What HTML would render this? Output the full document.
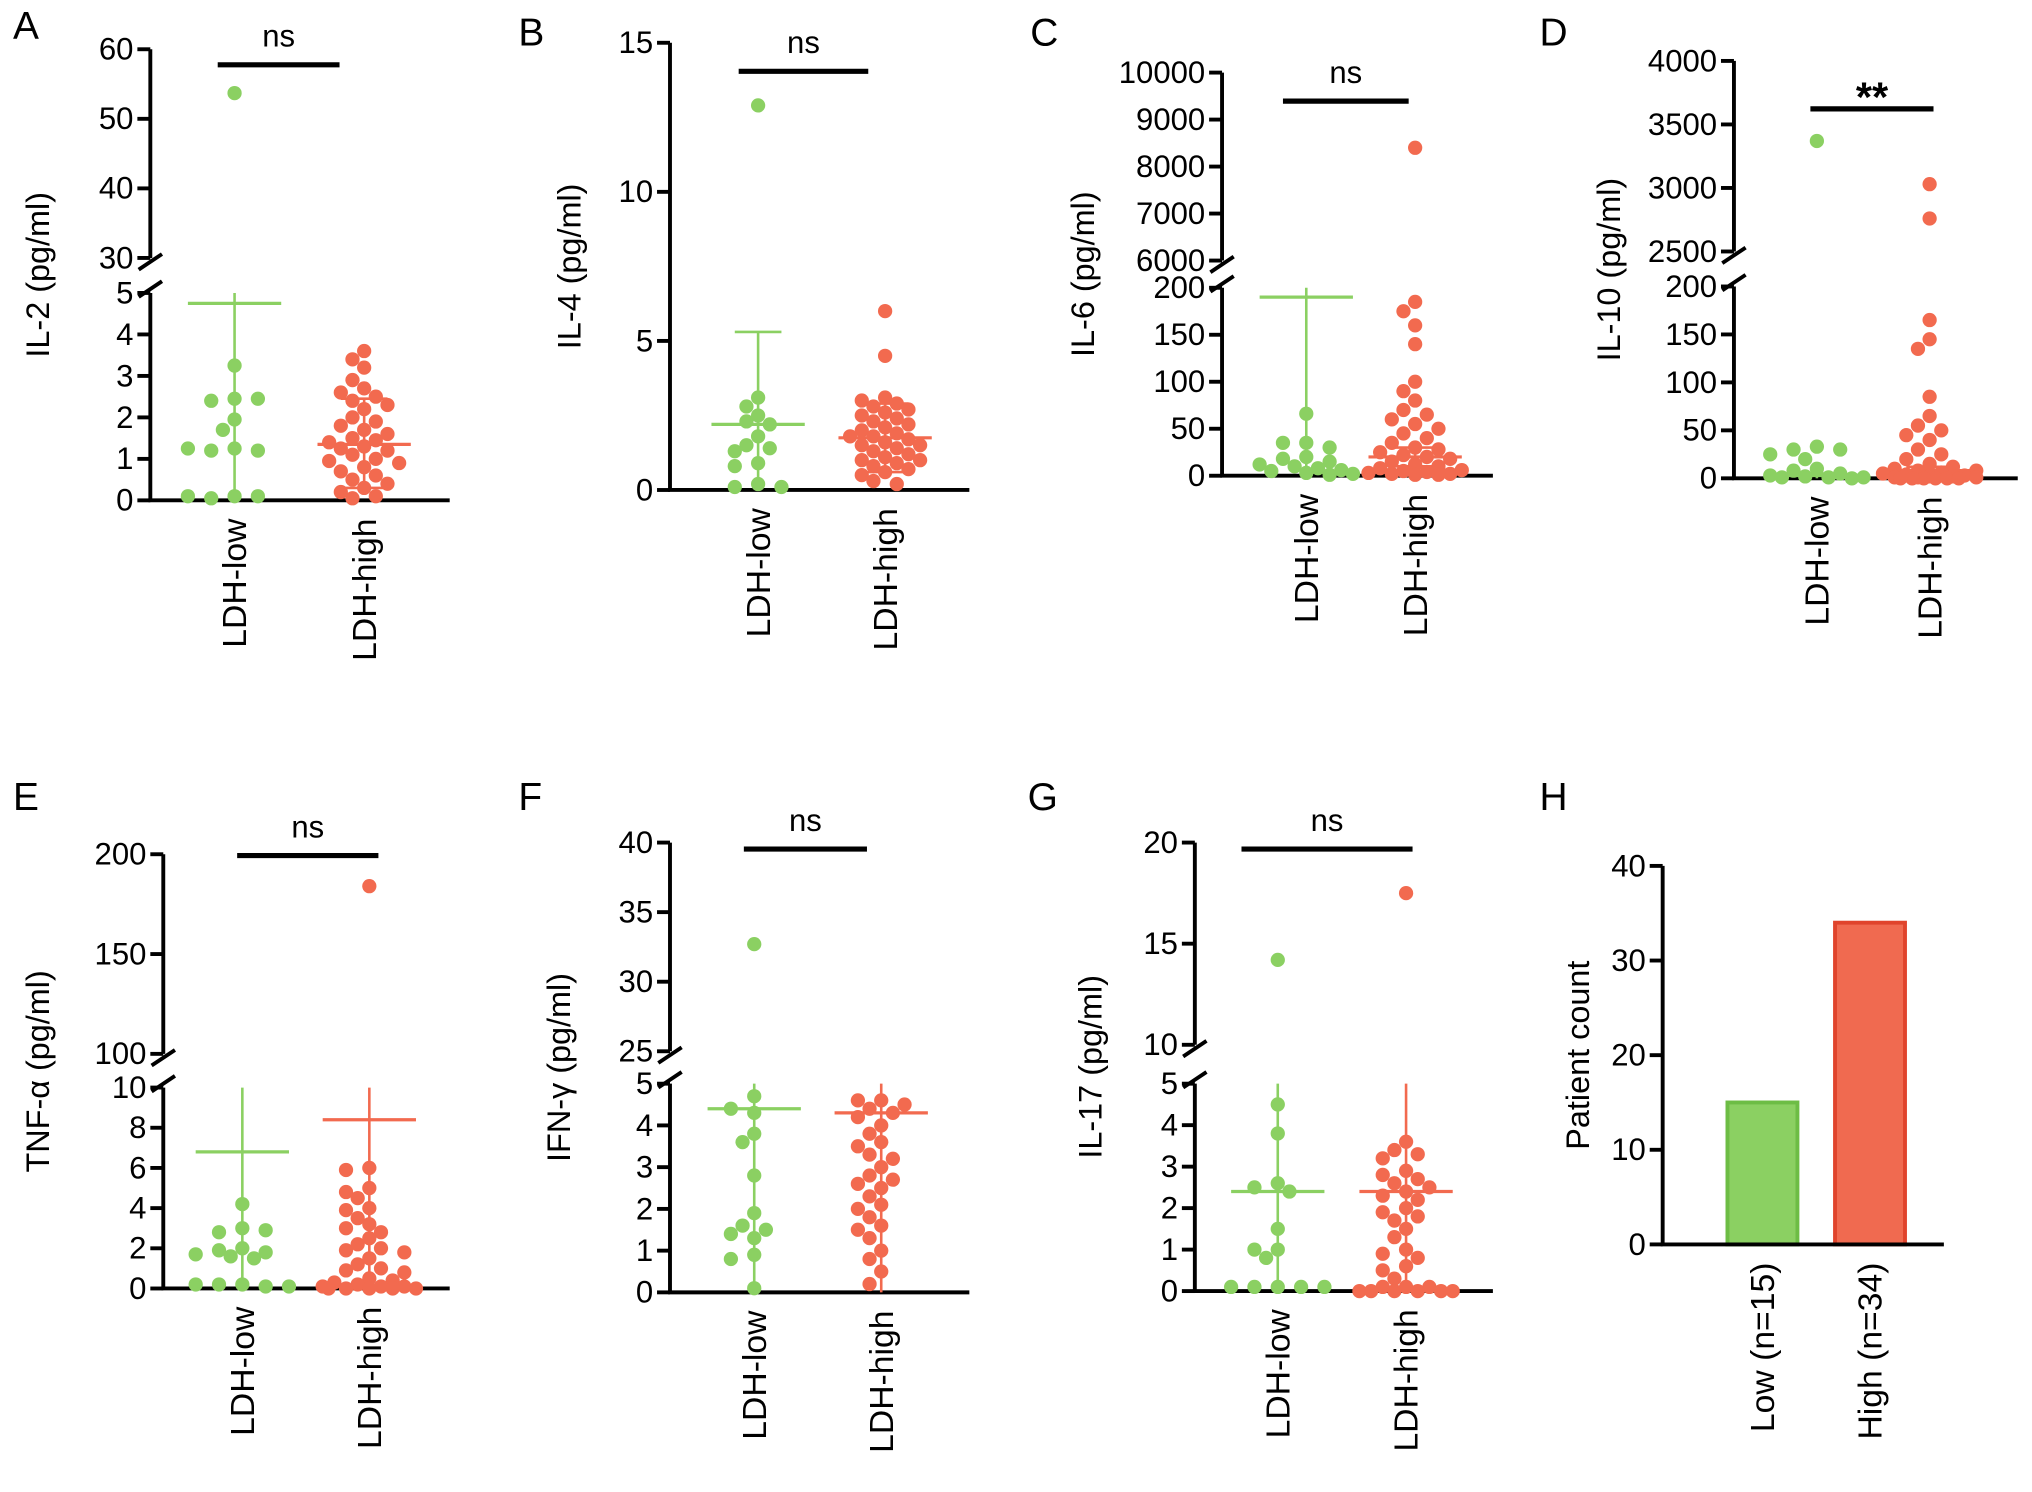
<!DOCTYPE html>
<html><head><meta charset="utf-8">
<style>
html,body{margin:0;padding:0;background:#fff;}
svg{display:block;font-family:"Liberation Sans",Arial,sans-serif;}
</style></head>
<body>
<svg id="fig" width="2032" height="1492" viewBox="0 0 1568 1151" preserveAspectRatio="none" xmlns="http://www.w3.org/2000/svg"></svg>
<script>
// ---------- data ----------
const groupNames = ["LDH-low","LDH-high"];
const il2Low = [53.7,3.25,2.45,2.4,2.45,1.95,1.7,1.25,1.2,1.2,1.25,0.1,0.05,0.1,0.1];
const il2High = [3.6,3.4,3.2,2.9,2.7,2.6,2.5,2.4,2.3,2.2,2.0,1.9,1.8,1.7,1.6,1.5,1.45,1.4,1.3,1.25,1.2,1.1,1.0,0.95,0.9,0.8,0.7,0.6,0.5,0.4,0.3,0.2,0.1,0.05];
const il4Low = [12.9,3.1,2.8,2.5,2.3,2.2,1.8,1.5,1.4,1.3,0.9,0.8,0.2,0.1,0.1];
const il4High = [6.0,4.5,3.1,3.0,2.9,2.8,2.7,2.6,2.5,2.4,2.3,2.2,2.1,2.0,1.9,1.8,1.8,1.7,1.6,1.5,1.5,1.4,1.3,1.2,1.1,1.0,1.0,0.9,0.8,0.7,0.6,0.5,0.3,0.2];
const il6Low = [66,35,35,30,20,18,15,12,10,8,6,5,3,2,1];
const il6High = [8400,185,175,160,140,100,90,80,70,65,60,55,50,45,40,35,30,28,25,22,20,18,15,12,10,8,6,5,4,3,2,2,1,1];
const il10Low = [3370,33,30,30,25,20,10,8,5,3,2,1,1,1,0];
const il10High = [3030,2760,165,145,135,85,65,55,50,45,40,30,25,20,15,12,10,8,8,6,5,4,3,2,2,1,1,1,0,0,0,0,0,0];
const tnfLow = [4.2,3.0,2.8,2.9,2.0,1.9,1.8,1.7,1.6,1.5,0.2,0.2,0.1,0.2,0.1];
const tnfHigh = [184,6.0,5.9,5.0,4.8,4.5,4.0,3.9,3.5,3.2,3.0,2.8,2.5,2.2,2.0,1.9,1.8,1.5,1.2,1.0,0.9,0.8,0.5,0.4,0.3,0.2,0.1,0.1,0.1,0,0,0,0,0];
const ifnLow = [32.7,4.7,4.3,4.4,3.8,3.6,2.8,1.9,1.6,1.5,1.4,1.3,0.9,0.8,0.1];
const ifnHigh = [4.6,4.6,4.5,4.4,4.3,4.2,4.0,3.8,3.6,3.5,3.3,3.2,3.0,2.8,2.7,2.6,2.5,2.3,2.1,2.0,1.8,1.6,1.5,1.3,1.0,0.8,0.5,0.2];
const il17Low = [14.2,4.5,3.8,2.6,2.5,2.4,1.5,1.0,1.0,0.8,0.1,0.1,0.1,0.1,0.1];
const il17High = [17.5,3.6,3.4,3.3,3.2,2.9,2.8,2.7,2.6,2.5,2.4,2.3,2.2,2.0,1.9,1.8,1.7,1.5,1.3,1.0,0.9,0.8,0.6,0.5,0.3,0.1,0.1,0.1,0,0,0,0,0,0];
// mean, sd-top, sd-bottom per group
const meanSd = {
  A:[[4.75,9.9,0],[1.35,2.45,0.3]], B:[[2.2,5.3,0],[1.75,2.9,0.6]],
  C:[[190,400,0],[20,30,10]], D:[[3,5,0],[8,12,4]],
  E:[[6.8,12,0],[8.4,14,0]], F:[[4.4,9,0],[4.3,9,0]],
  G:[[2.4,6,0],[2.4,6,0]]
};
const sigLabels = {A:"ns",B:"ns",C:"ns",D:"**",E:"ns",F:"ns",G:"ns"};
const barCategories = ["Low (n=15)","High (n=34)"];
const barValues = [15,34];
const barTicks = [0,10,20,30,40];

const GREEN="#8bd062", RED="#f26a4f";
const svg=document.getElementById('fig');
const NS="http://www.w3.org/2000/svg";
function mk(tag,attrs,parent){const e=document.createElementNS(NS,tag);for(const k in attrs)e.setAttribute(k,attrs[k]);(parent||svg).appendChild(e);return e;}

const panels=[
 {id:"A",label:"IL-2 (pg/ml)",data:[il2Low,il2High],ax:116,xe:347,base:386,lo:{max:5,top:226,ticks:[0,1,2,3,4,5]},up:{min:30,max:60,bot:199,top:38,ticks:[30,40,50,60]},gx:[181,281],sig:[168,262,50],lx:30,L:[10,30]},
 {id:"B",label:"IL-4 (pg/ml)",data:[il4Low,il4High],ax:517,xe:748,base:378,lo:{max:15,top:33,ticks:[0,5,10,15]},up:null,gx:[585,683],sig:[570,670,55],lx:440,L:[400,35]},
 {id:"C",label:"IL-6 (pg/ml)",data:[il6Low,il6High],ax:943,xe:1152,base:367,lo:{max:200,top:222,ticks:[0,50,100,150,200]},up:{min:6000,max:10000,bot:201,top:56,ticks:[6000,7000,8000,9000,10000]},gx:[1008,1092],sig:[990,1087,78],lx:836,L:[795,35]},
 {id:"D",label:"IL-10 (pg/ml)",data:[il10Low,il10High],ax:1338,xe:1557,base:369,lo:{max:200,top:221,ticks:[0,50,100,150,200]},up:{min:2500,max:4000,bot:194,top:47,ticks:[2500,3000,3500,4000]},gx:[1402,1489],sig:[1397,1492,84],lx:1242,L:[1188,35]},
 {id:"E",label:"TNF-\u03b1 (pg/ml)",data:[tnfLow,tnfHigh],ax:126,xe:347,base:994,lo:{max:10,top:839,ticks:[0,2,4,6,8,10]},up:{min:100,max:200,bot:813,top:659,ticks:[100,150,200]},gx:[187,285],sig:[183,292,660],lx:30,L:[10,625]},
 {id:"F",label:"IFN-\u03b3 (pg/ml)",data:[ifnLow,ifnHigh],ax:517,xe:748,base:997,lo:{max:5,top:836,ticks:[0,1,2,3,4,5]},up:{min:25,max:40,bot:811,top:650,ticks:[25,30,35,40]},gx:[582,680],sig:[574,669,655],lx:432,L:[400,625]},
 {id:"G",label:"IL-17 (pg/ml)",data:[il17Low,il17High],ax:922,xe:1152,base:996,lo:{max:5,top:836,ticks:[0,1,2,3,4,5]},up:{min:10,max:20,bot:806,top:650,ticks:[10,15,20]},gx:[986,1085],sig:[958,1090,655],lx:842,L:[793,625]}
];

function drawPanel(p){
  const g=mk('g',{});
  
  
  const yLo=v=>p.base-(Math.max(0,Math.min(v,p.lo.max))/p.lo.max)*(p.base-p.lo.top);
  const yUp=v=>p.up.bot-(v-p.up.min)/(p.up.max-p.up.min)*(p.up.bot-p.up.top);
  const yOf=v=>(p.up&&v>p.lo.max)?yUp(v):yLo(v);
  const L=mk('text',{x:p.L[0],y:p.L[1],'font-size':30},g);L.textContent=p.id;
  
  
  const topAx=p.up?p.up.top:p.lo.top;
  const ya=mk('path',{d:p.up?`M${p.ax},${p.base}V${p.lo.top}M${p.ax},${p.up.bot}V${p.up.top}`:`M${p.ax},${p.base}V${p.lo.top}`,stroke:'#000','stroke-width':3,fill:'none'},g);
  
  
  const xa=mk('line',{x1:p.ax-1.5,x2:p.xe,y1:p.base,y2:p.base,stroke:'#000','stroke-width':3},g);
  
  
  if(p.up){
    const br=mk('path',{d:`M${p.ax-9},${p.lo.top+3}L${p.ax+9},${p.lo.top-9}M${p.ax-9},${p.up.bot+9}L${p.ax+9},${p.up.bot-3}`,stroke:'#000','stroke-width':3,fill:'none'},g);
    
    
  }
  const ticks=[...p.lo.ticks.map(v=>[v,yLo(v)]),...(p.up?p.up.ticks.map(v=>[v,yUp(v)]):[])];
  ticks.forEach(([v,y])=>{
    mk('line',{x1:p.ax-10,x2:p.ax,y1:y,y2:y,stroke:'#000','stroke-width':3},g);
    const t=mk('text',{x:p.ax-13,y:y+8,'font-size':24,'text-anchor':'end'},g);t.textContent=v;
    
    
  });
  const yl=mk('text',{x:0,y:0,'font-size':25,'text-anchor':'middle',transform:`translate(${p.lx+8},${(p.base+topAx)/2}) rotate(-90)`},g);
  yl.textContent=p.label;
  
  
  p.data.forEach((vals,gi)=>{
    const col=gi?RED:GREEN, cx=p.gx[gi];
    const ms=meanSd[p.id][gi];
    const top=Math.min(ms[1],p.lo.max), bot=Math.max(ms[2],0);
    const err=mk('line',{x1:cx,x2:cx,y1:yLo(bot),y2:yLo(top),stroke:col,'stroke-width':2},g);
    
    
    if(ms[1]<=p.lo.max) mk('line',{x1:cx-18,x2:cx+18,y1:yLo(ms[1]),y2:yLo(ms[1]),stroke:col,'stroke-width':2},g);
    if(ms[2]>0) mk('line',{x1:cx-18,x2:cx+18,y1:yLo(ms[2]),y2:yLo(ms[2]),stroke:col,'stroke-width':2},g);
    const mn=mk('line',{x1:cx-36,x2:cx+36,y1:yLo(ms[0]),y2:yLo(ms[0]),stroke:col,'stroke-width':2.5},g);
    
    
    const placed=[], r=5.5;
    const cands=[0,-9,9,-18,18,-27,27,-36,36,-4.5,4.5,-13.5,13.5,-22.5,22.5,-31.5,31.5];
    vals.forEach(v=>{
      const y=yOf(v); let best=cx, bestD=-1;
      for(const off of cands){
        const x=cx+off;
        const d=placed.length?Math.min(...placed.map(q=>Math.hypot(q[0]-x,q[1]-y))):99;
        if(d>=2*r-1){best=x;bestD=99;break;}
        if(d>bestD){bestD=d;best=x;}
      }
      placed.push([best,y]);
      const c=mk('circle',{cx:best,cy:y,r:r,fill:col},g);
      
      
    });
    const cl=mk('text',{x:0,y:0,'font-size':26,'text-anchor':'end',transform:`translate(${cx+9},${p.base+14}) rotate(-90)`},g);
    cl.textContent=groupNames[gi];
    
    
  });
  const sb=mk('line',{x1:p.sig[0],x2:p.sig[1],y1:p.sig[2],y2:p.sig[2],stroke:'#000','stroke-width':4},g);
  
  
  const st=mk('text',{x:(p.sig[0]+p.sig[1])/2,y:p.sig[2]-(sigLabels[p.id]=="**"?-2:14),'font-size':sigLabels[p.id]=="**"?32:24,'text-anchor':'middle','font-weight':sigLabels[p.id]=="**"?'bold':'normal'},g);
  st.textContent=sigLabels[p.id];
  
  
}
panels.forEach(drawPanel);

(function(){
  const ax=1283,xe=1500,base=960,top=668,max=40;
  const g=mk('g',{});
  
  
  const y=v=>base-v/max*(base-top);
  const L=mk('text',{x:1188,y:625,'font-size':30},g);L.textContent="H";
  
  
  const bx=[1360,1443], fills=["#8bd062","#f06a50"], strokes=["#6dbd45","#e0442c"];
  barValues.forEach((v,i)=>{
    const b=mk('rect',{x:bx[i]-27,y:y(v),width:54,height:base-y(v),fill:fills[i],stroke:strokes[i],'stroke-width':3},g);
    
    
    const t=mk('text',{x:0,y:0,'font-size':26,'text-anchor':'end',transform:`translate(${bx[i]+9},${base+14}) rotate(-90)`},g);
    t.textContent=barCategories[i];
    
    
  });
  const ya=mk('line',{x1:ax,x2:ax,y1:base,y2:top,stroke:'#000','stroke-width':3},g);
  
  
  const xa=mk('line',{x1:ax-1.5,x2:xe,y1:base,y2:base,stroke:'#000','stroke-width':3},g);
  
  
  barTicks.forEach(v=>{
    mk('line',{x1:ax-10,x2:ax,y1:y(v),y2:y(v),stroke:'#000','stroke-width':3},g);
    const t=mk('text',{x:ax-13,y:y(v)+8,'font-size':24,'text-anchor':'end'},g);t.textContent=v;
    
    
  });
  const yl=mk('text',{x:0,y:0,'font-size':25,'text-anchor':'middle',transform:`translate(1226,${(base+top)/2}) rotate(-90)`},g);
  yl.textContent="Patient count";
  
  
})();
</script>
</body></html>
